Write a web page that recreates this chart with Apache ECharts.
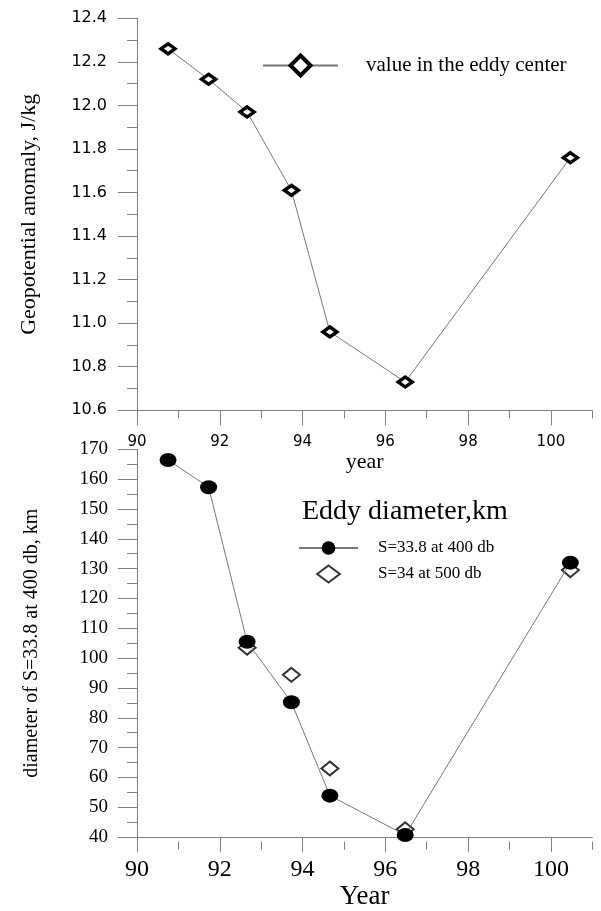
<!DOCTYPE html>
<html>
<head>
<meta charset="utf-8">
<script src="https://cdn.jsdelivr.net/npm/echarts@6/dist/echarts.min.js"></script>
<style>
html,body{margin:0;padding:0;background:#fff;}
#chart{width:601px;height:911px;}
</style>
</head>
<body>
<div id="chart"></div>
<script>
// ---- data ----
const years = [90.75, 91.73, 92.66, 93.73, 94.66, 96.48, 100.47];
const geopotential = [12.26, 12.12, 11.97, 11.61, 10.96, 10.73, 11.76];
const diameter400 = [166.4, 157.3, 105.5, 85.2, 53.9, 40.7, 132];
const diameter500 = [null, null, 103.5, 94.4, 63, 42.6, 129.5];
const xTickLabels = [90, 92, 94, 96, 98, 100];
const topYLabels = [10.6, 10.8, 11.0, 11.2, 11.4, 11.6, 11.8, 12.0, 12.2, 12.4];
const bottomYLabels = [40, 50, 60, 70, 80, 90, 100, 110, 120, 130, 140, 150, 160, 170];
const seriesNames = ['value in the eddy center', 'S=33.8 at 400 db', 'S=34 at 500 db'];

// ---- build ----
const pairs = (xs, ys) => xs.map((x, i) => [x, ys[i]]).filter(p => p[1] !== null);
const AX = '#808080';
const SERIF = 'Liberation Serif';
const SANS = 'DejaVu Sans';
const ELLIPSE = 'path://M0,7A8.5,7,0,1,0,17,7A8.5,7,0,1,0,0,7Z';
const DIAMOND2 = 'path://M10,0L20,7.5L10,15L0,7.5Z';

const gridTop = {left: 137, top: 18.3, width: 455.3, height: 392};
const gridBot = {left: 137, top: 449.3, width: 455.3, height: 392.4};

function mainX(gridIndex, fontFamily, fontSize, margin, name, nameSize, nameGap) {
  return {
    type: 'value', gridIndex, min: 90, max: 101, interval: 2,
    axisLine: {show: true, onZero: false, lineStyle: {color: AX, width: 1}},
    axisTick: {show: true, length: 15, customValues: xTickLabels, lineStyle: {color: AX}},
    axisLabel: {show: true, customValues: xTickLabels, margin, color: '#000', fontFamily, fontSize},
    splitLine: {show: false},
    name, nameLocation: 'middle', nameGap,
    nameTextStyle: {fontFamily: SERIF, fontSize: nameSize, color: '#000'}
  };
}
function minorX(gridIndex) {
  return {
    type: 'value', gridIndex, min: 90, max: 101, interval: 1,
    axisLine: {show: false}, axisLabel: {show: false}, splitLine: {show: false},
    axisTick: {show: true, length: 8, lineStyle: {color: AX}}
  };
}

const option = {
  backgroundColor: '#fff',
  animation: false,
  title: {
    text: 'Eddy diameter,km', left: 302, top: 498, padding: 0,
    textStyle: {fontFamily: SERIF, fontSize: 28, fontWeight: 'normal', color: '#000'}
  },
  legend: [
    {
      data: [seriesNames[0]], left: 262, top: 53.5, padding: 0,
      itemWidth: 75, itemHeight: 25,
      itemStyle: {borderWidth: 4},
      textStyle: {fontFamily: SERIF, fontSize: 21, color: '#000', padding: [0, 0, 0, 23]}
    },
    {
      data: [seriesNames[1], seriesNames[2]], orient: 'vertical', left: 298, top: 539.5, padding: 0,
      itemWidth: 59, itemHeight: 17, itemGap: 8,
      textStyle: {fontFamily: SERIF, fontSize: 17, color: '#000', padding: [0, 0, 0, 15]}
    }
  ],
  grid: [
    Object.assign({}, gridTop),
    Object.assign({}, gridBot),
    Object.assign({}, gridTop),
    Object.assign({}, gridBot)
  ],
  xAxis: [
    mainX(0, SANS, 15, 24, 'year', 22, 41),
    mainX(1, SERIF, 24, 21, 'Year', 27, 43),
    minorX(2),
    minorX(3)
  ],
  yAxis: [
    {
      type: 'value', gridIndex: 0, min: 10.6, max: 12.4, interval: 0.2,
      axisLine: {show: true, onZero: false, lineStyle: {color: AX}},
      axisTick: {show: true, length: 19, lineStyle: {color: AX}},
      minorTick: {show: true, splitNumber: 2, length: 10, lineStyle: {color: AX}},
      axisLabel: {margin: 30, color: '#000', fontFamily: SANS, fontSize: 16,
        formatter: v => v.toFixed(1)},
      splitLine: {show: false},
      name: 'Geopotential anomaly, J/kg', nameLocation: 'middle', nameGap: 97,
      nameTextStyle: {fontFamily: SERIF, fontSize: 22, color: '#000'}
    },
    {
      type: 'value', gridIndex: 1, min: 40, max: 170, interval: 10,
      axisLine: {show: true, onZero: false, lineStyle: {color: AX}},
      axisTick: {show: true, length: 19, lineStyle: {color: AX}},
      minorTick: {show: true, splitNumber: 2, length: 10, lineStyle: {color: AX}},
      axisLabel: {margin: 29, color: '#000', fontFamily: SERIF, fontSize: 19},
      splitLine: {show: false},
      name: 'diameter of S=33.8 at 400 db, km', nameLocation: 'middle', nameGap: 95,
      nameTextStyle: {fontFamily: SERIF, fontSize: 20, color: '#000'}
    },
    {type: 'value', gridIndex: 2, min: 10.6, max: 12.4, show: false},
    {type: 'value', gridIndex: 3, min: 40, max: 170, show: false}
  ],
  series: [
    {
      name: seriesNames[0], type: 'line', xAxisIndex: 0, yAxisIndex: 0,
      data: pairs(years, geopotential),
      symbol: 'diamond', symbolSize: [14, 10],
      itemStyle: {color: '#fff', borderColor: '#000', borderWidth: 3.5},
      lineStyle: {color: '#777', width: 1},
      z: 3
    },
    {
      name: seriesNames[2], type: 'scatter', xAxisIndex: 1, yAxisIndex: 1,
      data: pairs(years, diameter500),
      symbol: DIAMOND2, symbolSize: [17, 14],
      itemStyle: {color: '#fff', borderColor: '#000', borderWidth: 2},
      z: 3
    },
    {
      name: seriesNames[1], type: 'line', xAxisIndex: 1, yAxisIndex: 1,
      data: pairs(years, diameter400),
      symbol: ELLIPSE, symbolSize: [17, 14],
      itemStyle: {color: '#000', borderColor: '#000', borderWidth: 0},
      lineStyle: {color: '#777', width: 1},
      z: 4
    }
  ]
};

const chart = echarts.init(document.getElementById('chart'), null, {renderer: 'canvas'});
chart.setOption(option);
</script>
</body>
</html>
